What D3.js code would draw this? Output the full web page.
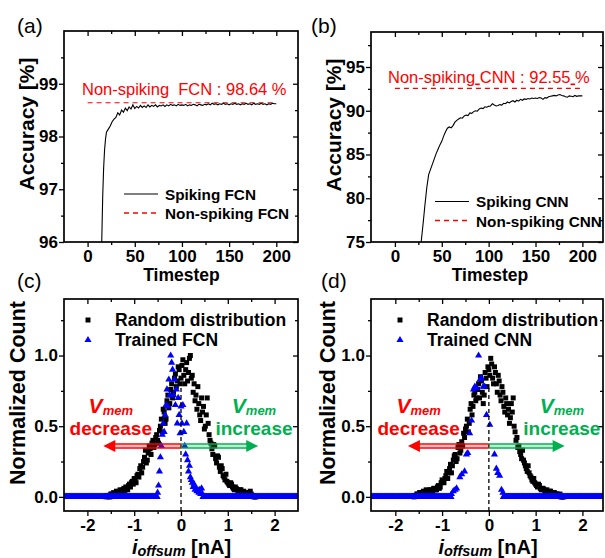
<!DOCTYPE html>
<html>
<head>
<meta charset="utf-8">
<script src="https://cdn.jsdelivr.net/npm/d3@7"></script>
<style>
  html, body { margin: 0; padding: 0; background: #fff; }
  svg { display: block; }
  text { font-family: 'Liberation Sans', Arial, Helvetica, sans-serif; }
</style>
</head>
<body>
<svg id="fig" width="605" height="558"></svg>
<script>
// ---------------- data ----------------
// (a) spiking FCN accuracy vs. timestep
const fcnSteps = [14,15,16,17,18,19,20,22,24,26,28,30,32,34,36,38,40,42,44,46,48,50,52,54,56,58,60,62,64,66,68,70,72,74,76,78,80,82,84,86,88,90,92,94,96,98,100,102,104,106,108,110,112,114,116,118,120,122,124,126,128,130,132,134,136,138,140,142,144,146,148,150,152,154,156,158,160,162,164,166,168,170,172,174,176,178,180,182,184,186,188,190,192,194,196,198,200];
const fcnAcc = [95.6,96.0,96.85,97.4,97.75,97.95,98.08,98.14,98.2,98.28,98.33,98.36,98.45,98.41,98.5,98.46,98.54,98.49,98.56,98.52,98.6,98.53,98.57,98.54,98.59,98.55,98.58,98.55,98.6,98.56,98.59,98.57,98.6,98.56,98.59,98.58,98.6,98.57,98.6,98.58,98.61,98.59,98.6,98.58,98.61,98.59,98.6,98.59,98.61,98.58,98.6,98.59,98.61,98.6,98.58,98.61,98.6,98.59,98.61,98.6,98.62,98.6,98.63,98.61,98.62,98.6,98.62,98.61,98.63,98.61,98.62,98.6,98.62,98.61,98.63,98.61,98.62,98.6,98.62,98.61,98.63,98.61,98.62,98.6,98.63,98.61,98.62,98.61,98.63,98.61,98.62,98.6,98.62,98.61,98.63,98.62,98.62];
const fcnReference = 98.64;

// (b) spiking CNN accuracy vs. timestep
const cnnSteps = [26,28,30,32,34,36,38,40,42,44,46,48,50,52,54,56,58,60,62,64,66,68,70,72,74,76,78,80,82,84,86,88,90,92,94,96,98,100,102,104,106,108,110,112,114,116,118,120,122,124,126,128,130,132,134,136,138,140,142,144,146,148,150,152,154,156,158,160,162,164,166,168,170,172,174,176,178,180,182,184,186,188,190,192,194,196,198,200];
const cnnAcc = [73.5,75.0,77.0,79.2,81.2,82.7,83.3,83.9,84.5,85.1,85.6,86.1,86.5,87.1,87.6,88.0,88.15,88.05,88.3,88.7,88.9,89.05,89.2,89.15,89.4,89.5,89.45,89.75,89.7,89.9,90.0,89.95,90.2,90.3,90.25,90.45,90.4,90.5,90.55,90.8,90.65,90.55,90.6,90.7,90.65,90.85,90.8,91.0,90.9,91.05,91.15,91.0,91.2,91.1,91.3,91.2,91.35,91.3,91.4,91.35,91.45,91.4,91.45,91.4,91.5,91.45,91.3,91.5,91.45,91.6,91.65,91.7,91.75,91.7,91.8,91.85,91.75,91.7,91.6,91.55,91.7,91.65,91.6,91.75,91.65,91.7,91.72,91.7];
const cnnReference = 92.55;

// (c),(d) random-distribution histograms: bins start at -1.6, width 0.02
const randomBinStart = -1.6, randomBinWidth = 0.02;
const randomCountC = [
  0.00,0.01,0.01,0.00,0.00,0.02,0.02,0.01,0.03,0.02,0.02,0.04,0.03,0.02,0.04,0.05,0.03,0.04,0.05,0.06,
  0.04,0.07,0.06,0.05,0.08,0.09,0.07,0.10,0.11,0.09,0.13,0.12,0.10,0.15,0.16,0.14,0.20,0.22,0.17,0.21,
  0.25,0.28,0.33,0.24,0.26,0.31,0.36,0.34,0.30,0.38,0.40,0.35,0.37,0.42,0.44,0.40,0.38,0.47,0.50,0.55,
  0.46,0.62,0.60,0.52,0.55,0.68,0.72,0.63,0.66,0.76,0.80,0.70,0.74,0.84,0.87,0.78,0.82,0.92,0.90,0.80,
  0.84,
  0.93,0.97,0.86,0.80,0.90,0.95,0.82,0.88,0.98,1.00,0.84,0.86,0.74,0.80,0.68,0.72,0.62,0.78,0.66,0.58,
  0.54,0.70,0.60,0.64,0.48,0.50,0.58,0.70,0.52,0.44,0.40,0.38,0.34,0.30,0.37,0.36,0.27,0.24,0.29,0.28,
  0.21,0.18,0.22,0.20,0.15,0.14,0.12,0.16,0.11,0.10,0.09,0.08,0.10,0.09,0.07,0.06,0.05,0.07,0.06,0.05,
  0.04,0.04,0.05,0.05,0.03,0.03,0.04,0.02,0.03,0.03,0.02,0.02,0.01,0.04,0.02,0.01,0.01,0.00,0.00,0.00
];
const randomCountD = [
  0.00,0.01,0.01,0.02,0.02,0.01,0.03,0.03,0.02,0.03,0.04,0.03,0.03,0.05,0.04,0.04,0.03,0.05,0.05,0.04,
  0.04,0.06,0.06,0.05,0.05,0.07,0.08,0.06,0.07,0.10,0.12,0.11,0.10,0.13,0.15,0.18,0.13,0.17,0.20,0.23,
  0.17,0.22,0.26,0.29,0.30,0.25,0.27,0.35,0.37,0.31,0.33,0.39,0.36,0.45,0.42,0.48,0.50,0.55,0.46,0.52,
  0.62,0.66,0.58,0.64,0.72,0.74,0.68,0.70,0.76,0.80,0.70,0.85,0.82,0.74,0.66,0.72,0.88,0.84,0.78,0.92,
  0.90,
  0.86,0.98,0.94,0.84,0.80,0.92,0.88,0.80,0.74,0.86,0.82,0.72,0.68,0.78,0.74,0.64,0.60,0.70,0.66,0.58,
  0.62,0.52,0.56,0.66,0.60,0.70,0.50,0.46,0.40,0.42,0.35,0.36,0.32,0.30,0.27,0.33,0.26,0.24,0.22,0.20,
  0.18,0.22,0.17,0.15,0.14,0.12,0.11,0.13,0.10,0.09,0.08,0.07,0.09,0.08,0.06,0.05,0.06,0.06,0.05,0.04,
  0.04,0.05,0.03,0.03,0.04,0.04,0.02,0.02,0.03,0.03,0.02,0.02,0.02,0.01,0.01,0.02,0.00,0.00,0.00,0.00
];

// (c) trained FCN histogram (non-empty bins)
const trainedFcnX = [-0.50,-0.48,-0.46,-0.44,-0.42,-0.40,-0.38,-0.36,-0.34,-0.32,-0.30,-0.28,-0.26,-0.24,-0.22,-0.20,-0.18,-0.16,-0.14,-0.12,-0.10,-0.08,-0.06,-0.04,-0.02,0.00,0.02,0.04,0.06,0.08,0.10,0.12,0.14,0.16,0.18,0.20,0.22,0.24,0.26,0.28,0.30,0.32,0.34,0.36,0.38,0.40,0.42,0.44,0.46];
const trainedFcnY = [0.03,0.08,0.18,0.28,0.36,0.44,0.52,0.46,0.58,0.65,0.76,0.64,0.83,0.72,1.00,0.95,0.90,0.72,0.83,0.65,0.76,0.52,0.70,0.58,0.45,0.64,0.52,0.65,0.46,0.36,0.30,0.52,0.26,0.18,0.22,0.14,0.12,0.10,0.07,0.09,0.05,0.06,0.04,0.05,0.03,0.05,0.02,0.06,0.02];

// (d) trained CNN histogram (non-empty bins)
const trainedCnnX = [-0.80,-0.76,-0.72,-0.69,-0.62,-0.58,-0.52,-0.48,-0.45,-0.41,-0.37,-0.33,-0.30,-0.26,-0.22,-0.19,-0.16,-0.12,-0.09,-0.05,0.02,0.12,0.16,0.19,0.23,0.27,0.30];
const trainedCnnY = [0.02,0.04,0.05,0.06,0.14,0.16,0.18,0.30,0.31,0.45,0.54,0.76,0.78,0.77,1.00,0.83,0.84,0.78,0.78,0.58,0.51,0.30,0.20,0.17,0.15,0.05,0.03];

// empty bins of the trained histograms (count 0) on a 0.01 grid
const emptyBinStep = 0.01;

// axis ticks
const stepTicks = [0, 50, 100, 150, 200];
const stepMinor = [25, 75, 125, 175];
const fcnTicks = [96, 97, 98, 99];
const fcnMinor = [96.5, 97.5, 98.5, 99.5];
const cnnTicks = [75, 80, 85, 90, 95];
const cnnMinor = [77.5, 82.5, 87.5, 92.5, 97.5];
const currentTicks = [-2, -1, 0, 1, 2];
const currentMinor = [-1.5, -0.5, 0.5, 1.5];
const countTicks = [0, 0.5, 1.0];
const countMinor = [0.25, 0.75, 1.25];

// ---------------- drawing ----------------
const svg = d3.select('#fig');
const RED = '#ff0000', GREEN = '#00b050', BLUE = '#0000ff';

const xA = d3.scaleLinear([-25, 223], [64, 298]);
const yA = d3.scaleLinear([96, 100], [242, 31]);
const xB = d3.scaleLinear([-25.5, 222], [371, 603]);
const yB = d3.scaleLinear([75, 99], [242, 32]);
const xC = d3.scaleLinear([-2.5, 2.5], [64, 298]);
const yC = d3.scaleLinear([-0.1, 1.4], [511, 299]);
const xD = d3.scaleLinear([-2.52, 2.44], [371, 603]);
const yD = d3.scaleLinear([-0.1, 1.4], [511, 299]);

function styleAxis(sel, fontSize) {
  sel.select('.domain').remove();
  sel.selectAll('line').attr('stroke', '#000').attr('stroke-width', 1.3);
  sel.selectAll('text')
    .attr('font-size', fontSize)
    .attr('font-weight', 'bold')
    .attr('fill', '#000')
    .style('font-family', "'Liberation Sans', Arial, sans-serif");
}

function drawAxes(g, x, y, xt, xm, yt, ym, yFmt) {
  const [xl, xr] = x.range();
  const [yb, yt0] = y.range();
  const none = () => '';
  // bottom: labelled, ticks outward
  g.append('g').attr('transform', `translate(0,${yb})`)
    .call(d3.axisBottom(x).tickValues(xt).tickSize(5).tickPadding(3).tickFormat(d => String(d)))
    .call(s => styleAxis(s, 17));
  g.append('g').attr('transform', `translate(0,${yb})`)
    .call(d3.axisBottom(x).tickValues(xm).tickSize(3).tickFormat(none))
    .call(s => styleAxis(s, 17));
  // left: labelled, ticks outward
  g.append('g').attr('transform', `translate(${xl},0)`)
    .call(d3.axisLeft(y).tickValues(yt).tickSize(5).tickPadding(1).tickFormat(yFmt))
    .call(s => styleAxis(s, 17));
  g.append('g').attr('transform', `translate(${xl},0)`)
    .call(d3.axisLeft(y).tickValues(ym).tickSize(3).tickFormat(none))
    .call(s => styleAxis(s, 17));
  // top and right mirrors: ticks inward
  g.append('g').attr('transform', `translate(0,${yt0})`)
    .call(d3.axisTop(x).tickValues(xt).tickSize(-5).tickFormat(none)).call(s => styleAxis(s, 17));
  g.append('g').attr('transform', `translate(0,${yt0})`)
    .call(d3.axisTop(x).tickValues(xm).tickSize(-3).tickFormat(none)).call(s => styleAxis(s, 17));
  g.append('g').attr('transform', `translate(${xr},0)`)
    .call(d3.axisRight(y).tickValues(yt).tickSize(-5).tickFormat(none)).call(s => styleAxis(s, 17));
  g.append('g').attr('transform', `translate(${xr},0)`)
    .call(d3.axisRight(y).tickValues(ym).tickSize(-3).tickFormat(none)).call(s => styleAxis(s, 17));
}

function drawFrame(g, x, y) {
  const [xl, xr] = x.range();
  const [yb, yt] = y.range();
  g.append('rect').attr('x', xl).attr('y', yt)
    .attr('width', xr - xl).attr('height', yb - yt)
    .attr('fill', 'none').attr('stroke', '#000').attr('stroke-width', 1.7);
}

function clipFor(id, x, y) {
  const [xl, xr] = x.range();
  const [yb, yt] = y.range();
  svg.append('clipPath').attr('id', id).append('rect')
    .attr('x', xl).attr('y', yt).attr('width', xr - xl).attr('height', yb - yt);
  return `url(#${id})`;
}

function panelLabel(txt, x, y) {
  svg.append('text').attr('x', x).attr('y', y).attr('font-size', 21).text(txt);
}

function yTitle(txt, x, y, size) {
  svg.append('text').attr('transform', `translate(${x},${y}) rotate(-90)`)
    .attr('text-anchor', 'middle').attr('font-size', size).attr('font-weight', 'bold').text(txt);
}

// ---- accuracy panels (a), (b) ----
function accuracyPanel(opts) {
  const { x, y, steps, acc, ref, ticksY, minorY, label, labelPos, refParts, refTextPos, legendPos, legendNames, clipId, yTitlePos, xTitleX } = opts;
  const g = svg.append('g');
  drawAxes(g, x, y, stepTicks, stepMinor, ticksY, minorY, d => String(d));
  const clip = clipFor(clipId, x, y);
  const data = g.append('g').attr('clip-path', clip);
  // non-spiking reference accuracy
  data.append('line')
    .attr('x1', x(0)).attr('x2', x(200)).attr('y1', y(ref)).attr('y2', y(ref))
    .attr('stroke', RED).attr('stroke-width', 1.2).attr('stroke-dasharray', '5,4');
  // spiking accuracy curve
  const line = d3.line().x((d, i) => x(steps[i])).y(d => y(d));
  data.append('path').datum(acc).attr('d', line)
    .attr('fill', 'none').attr('stroke', '#000').attr('stroke-width', 1.1);
  drawFrame(g, x, y);
  // reference annotation (parts flagged true carry an underline)
  const rt = svg.append('text').attr('x', refTextPos[0]).attr('y', refTextPos[1])
    .attr('font-size', 16.5).attr('fill', RED).style('white-space', 'pre');
  refParts.forEach(([s, u]) => {
    const ts = rt.append('tspan').text(s);
    if (u) ts.style('text-decoration', 'underline');
  });
  // legend
  const [lx, ly] = legendPos;
  svg.append('line').attr('x1', lx).attr('x2', lx + 34).attr('y1', ly).attr('y2', ly)
    .attr('stroke', '#000').attr('stroke-width', 1.1);
  svg.append('line').attr('x1', lx).attr('x2', lx + 34).attr('y1', ly + 19).attr('y2', ly + 19)
    .attr('stroke', RED).attr('stroke-width', 1.3).attr('stroke-dasharray', '5,4');
  svg.append('text').attr('x', lx + 41).attr('y', ly + 5.6).attr('font-size', 15.3).attr('font-weight', 'bold').text(legendNames[0]);
  svg.append('text').attr('x', lx + 41).attr('y', ly + 25.1).attr('font-size', 15.3).attr('font-weight', 'bold').text(legendNames[1]);
  // titles
  svg.append('text').attr('x', xTitleX).attr('y', 281).attr('text-anchor', 'middle')
    .attr('font-size', 17.5).attr('font-weight', 'bold').text('Timestep');
  yTitle('Accuracy [%]', yTitlePos[0], yTitlePos[1], 21);
  panelLabel(label, labelPos[0], labelPos[1]);
}

accuracyPanel({
  x: xA, y: yA, steps: fcnSteps, acc: fcnAcc, ref: fcnReference,
  ticksY: fcnTicks, minorY: fcnMinor, label: '(a)', labelPos: [17, 33],
  refParts: [['Non-spiking  FCN : 98.64 %', false]], refTextPos: [82, 95],
  legendPos: [124, 194], legendNames: ['Spiking FCN', 'Non-spiking FCN'],
  clipId: 'clipA', yTitlePos: [34, 124], xTitleX: 181.5
});
accuracyPanel({
  x: xB, y: yB, steps: cnnSteps, acc: cnnAcc, ref: cnnReference,
  ticksY: cnnTicks, minorY: cnnMinor, label: '(b)', labelPos: [311, 33],
  refParts: [['Non-spiking', false], [' ', true], ['CNN : 92.55', false], [' ', true], ['%', false]],
  refTextPos: [388, 82.5],
  legendPos: [435, 201.5], legendNames: ['Spiking CNN', 'Non-spiking CNN'],
  clipId: 'clipB', yTitlePos: [341, 125], xTitleX: 490
});

// ---- distribution panels (c), (d) ----
const squareSym = d3.symbol(d3.symbolSquare, 25);
const triSym = d3.symbol(d3.symbolTriangle, 22);

function arrow(g, x, y, from, to, yv, color) {
  const dir = Math.sign(to - from);
  const x0 = x(from), x1 = x(to), yy = y(yv);
  const head = 12;
  [-2, 2].forEach(off => {
    g.append('line').attr('x1', x0).attr('x2', x1 - dir * head + dir * 1).attr('y1', yy + off).attr('y2', yy + off)
      .attr('stroke', color).attr('stroke-width', 1.3);
  });
  g.append('line').attr('x1', x0).attr('x2', x1 - dir * head).attr('y1', yy).attr('y2', yy)
    .attr('stroke', color).attr('stroke-width', 2.7).attr('stroke-opacity', 0.25);
  g.append('path')
    .attr('d', `M${x1},${yy} L${x1 - dir * head},${yy - 6} L${x1 - dir * head},${yy + 6} Z`)
    .attr('fill', color);
}

function vmemLabel(g, cx, baseY, color, word) {
  const t = g.append('text').attr('x', cx).attr('y', baseY).attr('text-anchor', 'middle')
    .attr('fill', color).attr('font-weight', 'bold').attr('font-style', 'italic');
  t.append('tspan').attr('font-size', 21).text('V');
  t.append('tspan').attr('font-size', 13).attr('dy', 2).text('mem');
  g.append('text').attr('x', cx).attr('y', baseY + 22).attr('text-anchor', 'middle')
    .attr('fill', color).attr('font-weight', 'bold').attr('font-size', 19).text(word);
}

function distributionPanel(opts) {
  const { x, y, randomCount, trainedX, trainedY, label, labelPos, trainedName, clipId, yTitlePos, xTitleX, legendX, arrowEnds } = opts;
  const g = svg.append('g');
  drawAxes(g, x, y, currentTicks, currentMinor, countTicks, countMinor, d3.format('.1f'));
  const clip = clipFor(clipId, x, y);
  const data = g.append('g').attr('clip-path', clip);

  // random distribution (black squares)
  data.append('g').selectAll('path').data(randomCount).join('path')
    .attr('d', squareSym)
    .attr('transform', (d, i) => `translate(${x(randomBinStart + i * randomBinWidth)},${y(d)})`)
    .attr('fill', '#000');

  // trained distribution: empty bins then counted bins (blue triangles)
  const lo = d3.min(trainedX), hi = d3.max(trainedX);
  const empty = d3.range(-2.6, 2.6001, emptyBinStep).filter(v => v < lo - 0.005 || v > hi + 0.005);
  const trained = empty.map(v => [v, 0]).concat(trainedX.map((v, i) => [v, trainedY[i]]));
  data.append('g').selectAll('path').data(trained).join('path')
    .attr('d', triSym)
    .attr('transform', d => `translate(${x(d[0])},${y(d[1])})`)
    .attr('fill', BLUE);

  // zero-current divider
  data.append('line').attr('x1', x(0)).attr('x2', x(0)).attr('y1', y(-0.1)).attr('y2', y(0.78))
    .attr('stroke', '#000').attr('stroke-width', 1.3).attr('stroke-dasharray', '4,3');

  // V_mem direction arrows
  arrow(g, x, y, 0, arrowEnds[0], 0.36, RED);
  arrow(g, x, y, 0, arrowEnds[1], 0.36, GREEN);
  vmemLabel(g, x(-1.5), y(0.594), RED, 'decrease');
  vmemLabel(g, x(1.56), y(0.594), GREEN, 'increase');

  drawFrame(g, x, y);

  // legend
  g.append('path').attr('d', squareSym).attr('transform', `translate(${legendX},320)`).attr('fill', '#000');
  g.append('path').attr('d', triSym).attr('transform', `translate(${legendX},340)`).attr('fill', BLUE);
  g.append('text').attr('x', legendX + 27).attr('y', 325.5).attr('font-size', 17.5).attr('font-weight', 'bold').text('Random distribution');
  g.append('text').attr('x', legendX + 27).attr('y', 346).attr('font-size', 17.5).attr('font-weight', 'bold').text(trainedName);

  // titles
  const xt = svg.append('text').attr('x', xTitleX).attr('y', 553.5).attr('text-anchor', 'middle')
    .attr('font-weight', 'bold').style('white-space', 'pre');
  xt.append('tspan').attr('font-size', 20).attr('font-style', 'italic').text('i');
  xt.append('tspan').attr('font-size', 14.5).attr('font-style', 'italic').attr('dy', 2.5).text('offsum');
  xt.append('tspan').attr('font-size', 20).attr('dy', -2.5).text(' [nA]');
  yTitle('Normalized Count', yTitlePos[0], yTitlePos[1], 21.5);
  panelLabel(label, labelPos[0], labelPos[1]);
}

distributionPanel({
  x: xC, y: yC, randomCount: randomCountC, trainedX: trainedFcnX, trainedY: trainedFcnY,
  label: '(c)', labelPos: [17, 288], trainedName: 'Trained FCN', clipId: 'clipC',
  yTitlePos: [25, 393], xTitleX: 181.5, legendX: 88, arrowEnds: [-1.66, 1.65]
});
distributionPanel({
  x: xD, y: yD, randomCount: randomCountD, trainedX: trainedCnnX, trainedY: trainedCnnY,
  label: '(d)', labelPos: [321, 288], trainedName: 'Trained CNN', clipId: 'clipD',
  yTitlePos: [335, 393], xTitleX: 488, legendX: 400, arrowEnds: [-1.73, 1.62]
});
</script>
</body>
</html>
